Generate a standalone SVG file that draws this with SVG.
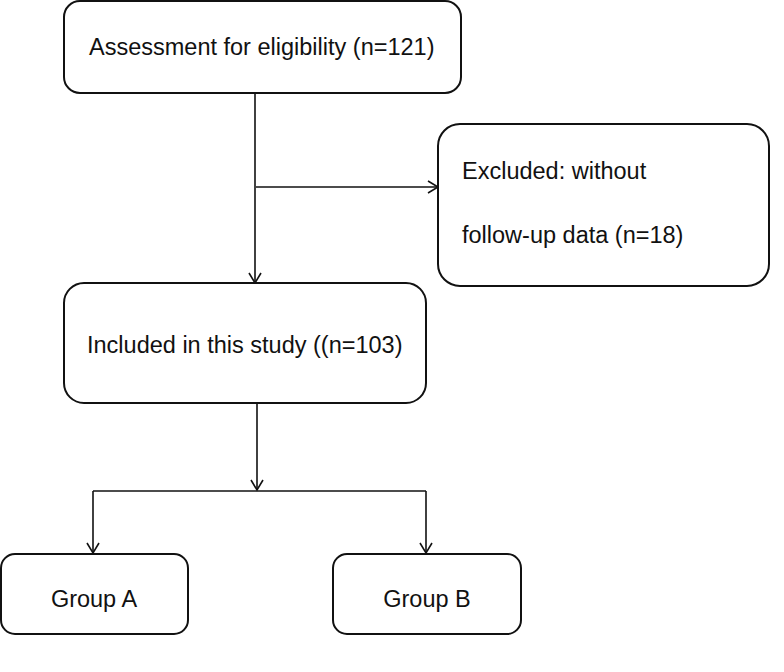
<svg xmlns="http://www.w3.org/2000/svg" width="784" height="672" viewBox="0 0 784 672">
<style>
.box{fill:#fff;stroke:#111;stroke-width:2}
.t{font-family:"Liberation Sans",Arial,sans-serif;font-size:23.5px;fill:#111}
.c{fill:none;stroke:#111;stroke-width:1.6}
</style>
<defs>
<marker id="ah" markerWidth="14" markerHeight="14" refX="11" refY="7" orient="auto" markerUnits="userSpaceOnUse">
<path d="M1,1 L11,7 L1,13" fill="none" stroke="#111" stroke-width="1.6"/>
</marker>
</defs>
<rect width="784" height="672" fill="#fff"/>
<g id="connectors">
<path class="c" d="M255,93 V283" marker-end="url(#ah)"/>
<path class="c" d="M256,187 H438" marker-end="url(#ah)"/>
<path class="c" d="M257,403 V490" marker-end="url(#ah)"/>
<path class="c" d="M93,491 H426"/>
<path class="c" d="M93,491 V553" marker-end="url(#ah)"/>
<path class="c" d="M426,491 V553" marker-end="url(#ah)"/>
</g>
<g id="assessment">
<rect class="box" x="64" y="1" width="397" height="92" rx="16"/>
<text class="t" x="89" y="55">Assessment for eligibility (n=121)</text>
</g>
<g id="excluded">
<rect class="box" x="438" y="124" width="331" height="162" rx="22"/>
<text class="t" x="462" y="179">Excluded: without</text>
<text class="t" x="462" y="243">follow-up data (n=18)</text>
</g>
<g id="included">
<rect class="box" x="64" y="283" width="362" height="120" rx="20"/>
<text class="t" x="87" y="353">Included in this study ((n=103)</text>
</g>
<g id="groupA">
<rect class="box" x="1" y="554" width="187" height="80" rx="14"/>
<text class="t" x="94" y="607" text-anchor="middle">Group A</text>
</g>
<g id="groupB">
<rect class="box" x="333" y="554" width="188" height="80" rx="14"/>
<text class="t" x="427" y="607" text-anchor="middle">Group B</text>
</g>
</svg>
